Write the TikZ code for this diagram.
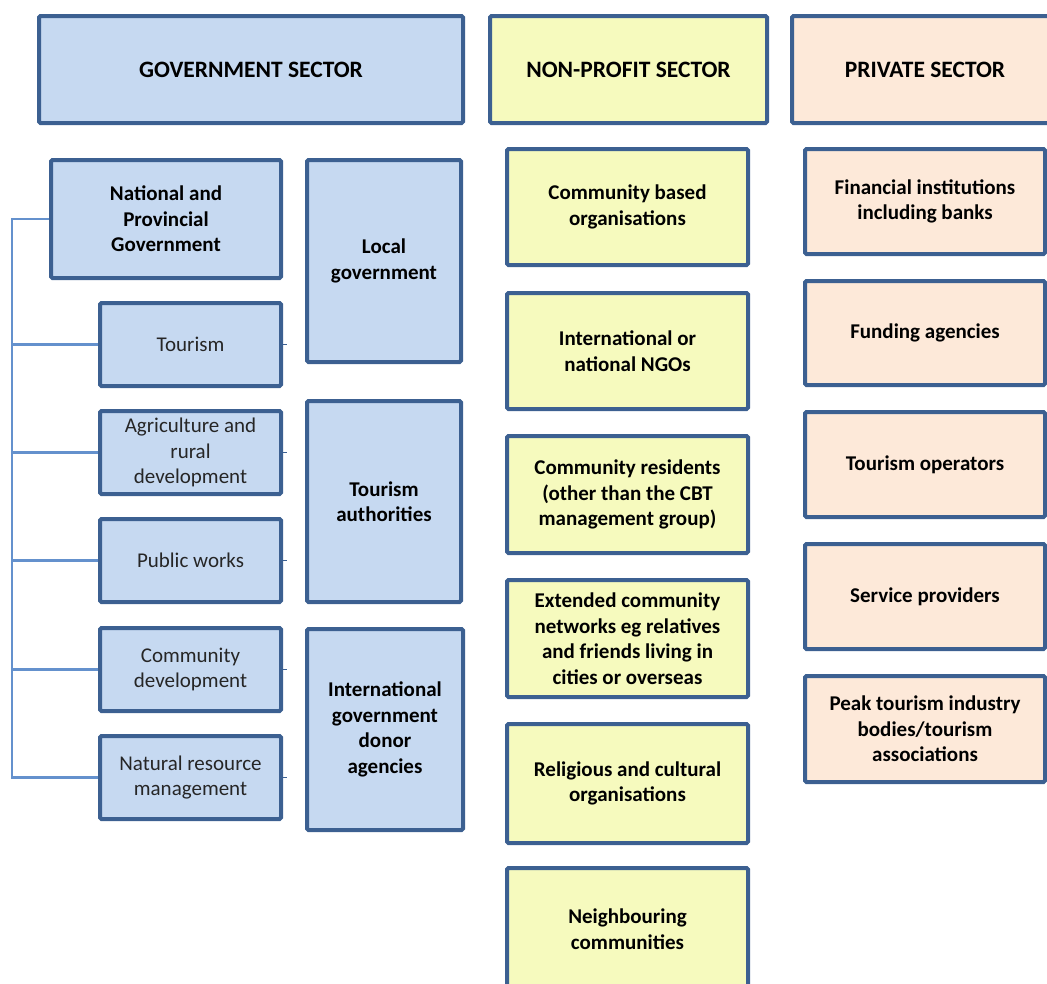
\documentclass[tikz,border=0pt]{standalone}
\usepackage{fontspec}
\setmainfont{Carlito}
\definecolor{boxline}{RGB}{60,96,145}
\definecolor{linkline}{RGB}{100,145,205}
\definecolor{govfill}{RGB}{198,217,241}
\definecolor{npofill}{RGB}{246,250,190}
\definecolor{privfill}{RGB}{253,233,217}
\definecolor{plaintext}{RGB}{38,38,38}

\tikzset{
  sectorbox/.style={draw=boxline, line width=4pt, rounded corners=1.5pt,
    align=center, inner sep=2pt, font=\fontsize{21}{25.5}\selectfont\bfseries},
  heading/.style={font=\fontsize{23.5}{28}\selectfont\bfseries},
  gov/.style={sectorbox, fill=govfill},
  npo/.style={sectorbox, fill=npofill},
  priv/.style={sectorbox, fill=privfill},
  light/.style={font=\fontsize{21}{25.5}\selectfont, text=plaintext},
  link/.style={draw=linkline, line width=2.4pt},
  stub/.style={draw=boxline, line width=1.5pt}
}

\begin{document}
\begin{tikzpicture}[x=1pt, y=-1pt]
    \useasboundingbox (0,0) rectangle (1047,983);
    \clip (0,0) rectangle (1047,983);

    % sector headings
    \node[gov,  heading, minimum width=424pt, minimum height=107pt] (govsec)  at (251,69.5)   {GOVERNMENT SECTOR};
    \node[npo,  heading, minimum width=277pt, minimum height=107pt] (nposec)  at (628.5,69.5) {NON-PROFIT SECTOR};
    \node[priv, heading, minimum width=266pt, minimum height=107pt] (privsec) at (925,69.5)   {PRIVATE SECTOR};

    % government sector
    \node[gov, minimum width=230pt, minimum height=118pt] (nat) at (166,219) {National and\\Provincial\\Government};
    \node[gov, light, minimum width=181pt, minimum height=83pt] (tour)   at (190.5,344.5) {Tourism};
    \node[gov, light, minimum width=181pt, minimum height=83pt] (agri)   at (190.5,452.5) {Agriculture and\\rural\\development};
    \node[gov, light, minimum width=181pt, minimum height=83pt] (pubw)   at (190.5,560.5) {Public works};
    \node[gov, light, minimum width=181pt, minimum height=83pt] (comdev) at (190.5,669.5) {Community\\development};
    \node[gov, light, minimum width=181pt, minimum height=83pt] (natres) at (190.5,777.5) {Natural resource\\management};

    \node[gov, minimum width=154pt, minimum height=202pt] (localgov) at (384,261)   {Local\\government};
    \node[gov, minimum width=154pt, minimum height=201pt] (tourauth) at (384,501.5) {Tourism\\authorities};
    \node[gov, minimum width=156pt, minimum height=201pt] (donor)    at (385,729.5) {International\\government\\donor\\agencies};

    \coordinate (bus) at (12,0);
    \draw[link] (nat.west) -| (bus |- natres.west) -- (natres.west);
    \draw[link] (bus |- tour.west)   -- (tour.west);
    \draw[link] (bus |- agri.west)   -- (agri.west);
    \draw[link] (bus |- pubw.west)   -- (pubw.west);
    \draw[link] (bus |- comdev.west) -- (comdev.west);

    \draw[stub] (tour.east)   -- ++(4,0);
    \draw[stub] (agri.east)   -- ++(4,0);
    \draw[stub] (pubw.east)   -- ++(4,0);
    \draw[stub] (comdev.east) -- ++(4,0);
    \draw[stub] (natres.east) -- ++(4,0);

    % non-profit sector
    \node[npo, minimum width=241pt, minimum height=116pt] (cbo)    at (627.5,207)   {Community based\\organisations};
    \node[npo, minimum width=241pt, minimum height=116pt] (ngo)    at (627.5,351)   {International or\\national NGOs};
    \node[npo, minimum width=241pt, minimum height=117pt] (resid)  at (627.5,494.5) {Community residents\\(other than the CBT\\management group)};
    \node[npo, minimum width=241pt, minimum height=117pt] (extnet) at (627.5,638.5) {Extended community\\networks eg relatives\\and friends living in\\cities or overseas};
    \node[npo, minimum width=241pt, minimum height=119pt] (relig)  at (627.5,783.5) {Religious and cultural\\organisations};
    \node[npo, minimum width=241pt, minimum height=122pt] (neigh)  at (627.5,929)   {Neighbouring\\communities};

    % private sector
    \node[priv, minimum width=240pt, minimum height=105pt] (fin)    at (925,201.5) {Financial institutions\\including banks};
    \node[priv, minimum width=240pt, minimum height=104pt] (fund)   at (925,333)   {Funding agencies};
    \node[priv, minimum width=240pt, minimum height=105pt] (tourop) at (925,464.5) {Tourism operators};
    \node[priv, minimum width=240pt, minimum height=105pt] (serv)   at (925,596.5) {Service providers};
    \node[priv, minimum width=240pt, minimum height=106pt] (peak)   at (925,729)   {Peak tourism industry\\bodies/tourism\\associations};
\end{tikzpicture}
\end{document}
